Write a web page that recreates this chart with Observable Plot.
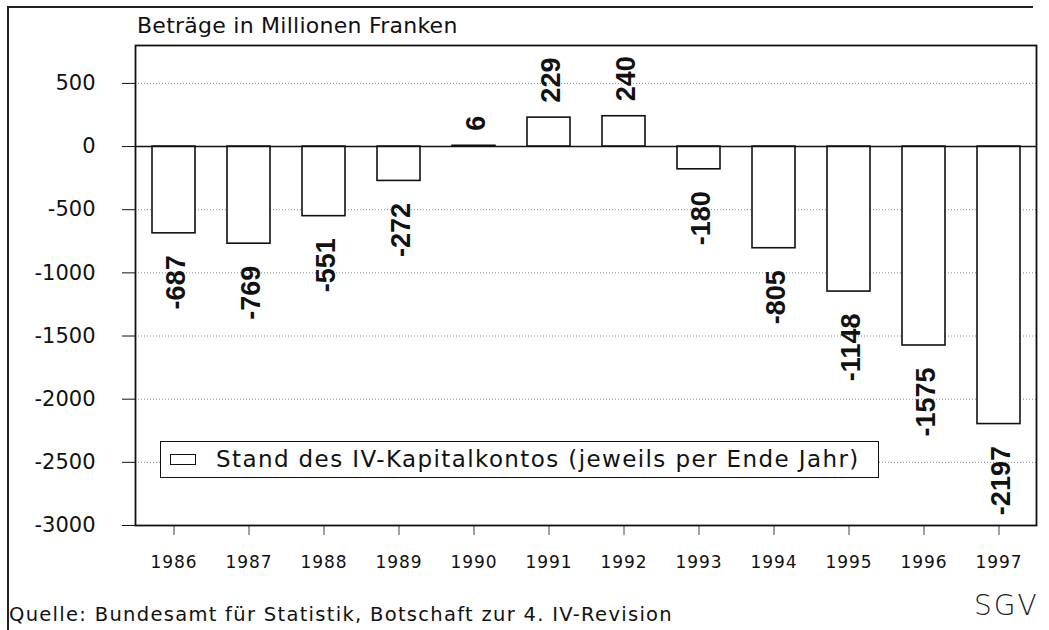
<!DOCTYPE html>
<html>
<head>
<meta charset="utf-8">
<script src="https://cdn.jsdelivr.net/npm/d3@7"></script>
<script src="https://cdn.jsdelivr.net/npm/@observablehq/plot@0.6"></script>
<style>
  html, body { margin: 0; padding: 0; background: #fff; }
  #wrap { position: relative; width: 1049px; height: 630px; overflow: hidden; background: #fff; font-family: "DejaVu Sans", sans-serif; color: #111; }
  #chart { position: absolute; left: 0; top: 0; }
  #chart svg { overflow: visible; }
  #chart [aria-label^="y-axis"] text { font-size: 21px; font-family: "DejaVu Sans", sans-serif; }
  #chart [aria-label^="x-axis"] text { font-size: 17px; letter-spacing: 1px; font-family: "DejaVu Sans", sans-serif; }
  #chart [aria-label^="x-axis"] path, #chart [aria-label^="x-axis"] line { stroke: #444; }
  .abs { position: absolute; white-space: nowrap; line-height: 1; }
  #frameTop { position: absolute; left: 8px; top: 6px; width: 1025px; height: 0; border-top: 2px solid #222; }
  #frameLeft { position: absolute; left: 7px; top: 6px; width: 0; height: 640px; border-left: 2px solid #222; }
  #legend { position: absolute; left: 160px; top: 441px; width: 717px; height: 35px; border: 1.5px solid #111; background: #fff; display: flex; align-items: center; }
  #legend .sw { width: 24px; height: 9px; border: 1.5px solid #111; margin-left: 9px; }
  #legend .lt { font-size: 23px; letter-spacing: 1.4px; margin-left: 20px; line-height: 1; }
</style>
</head>
<body>
<div id="wrap">
  <div id="frameTop"></div>
  <div id="frameLeft"></div>
  <div class="abs" id="title" style="left:137px; top:15px; font-size:22px; letter-spacing:0.25px;">Beträge in Millionen Franken</div>
  <div id="chart"></div>
  <div id="legend"><div class="sw"></div><div class="lt" id="legendText"></div></div>
  <div class="abs" id="source" style="left:9px; top:605px; font-size:19.5px; letter-spacing:1.3px;">Quelle: Bundesamt für Statistik, Botschaft zur 4. IV-Revision</div>
  <div class="abs" id="sgv" style="left:974px; top:592px; font-size:28px; letter-spacing:2px; font-weight:200; color:#222;">SGV</div>
</div>
<script>
// ---- data ----
const years = ["1986", "1987", "1988", "1989", "1990", "1991", "1992", "1993", "1994", "1995", "1996", "1997"];
const values = [-687, -769, -551, -272, 6, 229, 240, -180, -805, -1148, -1575, -2197];
const yTicks = [500, 0, -500, -1000, -1500, -2000, -2500, -3000];
const seriesName = "Stand des IV-Kapitalkontos (jeweils per Ende Jahr)";

const data = years.map((y, i) => ({year: y, value: values[i]}));
const pos = data.filter(d => d.value >= 0);
const neg = data.filter(d => d.value < 0);

document.getElementById("legendText").textContent = seriesName;

const chart = Plot.plot({
  width: 1049,
  height: 630,
  marginLeft: 135,
  marginRight: 13,
  marginTop: 45,
  marginBottom: 105,
  style: {background: "transparent", fontFamily: "DejaVu Sans", color: "#111"},
  x: {domain: years, paddingInner: 0.43, paddingOuter: 0.215, label: null, tickSize: 10, tickPadding: 20},
  y: {domain: [-3000, 800], ticks: yTicks, tickFormat: d => String(d), label: null, tickSize: 13, tickPadding: 27},
  marks: [
    Plot.ruleY(yTicks.filter(d => d !== 0 && d !== -3000), {stroke: "#888", strokeWidth: 1, strokeDasharray: "1,2"}),
    Plot.barY(data, {x: "year", y: "value", fill: "white", stroke: "#111", strokeWidth: 1.6}),
    Plot.ruleY([0], {stroke: "#111", strokeWidth: 1.6}),
    Plot.frame({stroke: "#111", strokeWidth: 1.8}),
    Plot.text(pos, {x: "year", y: "value", text: d => String(d.value), rotate: -90, textAnchor: "start", dy: -15, dx: 2,
      fontFamily: "Liberation Sans", fontWeight: "bold", fontSize: 27, fill: "#111"}),
    Plot.text(neg, {x: "year", y: "value", text: d => String(d.value), rotate: -90, textAnchor: "end", dy: 22, dx: 2,
      fontFamily: "Liberation Sans", fontWeight: "bold", fontSize: 27, fill: "#111"})
  ]
});
document.getElementById("chart").appendChild(chart);
</script>
</body>
</html>
